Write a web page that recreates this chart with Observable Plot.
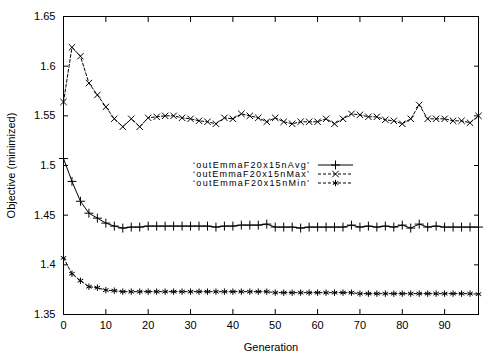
<!DOCTYPE html>
<html><head><meta charset="utf-8">
<script src="https://cdn.jsdelivr.net/npm/d3@7"></script>
<script src="https://cdn.jsdelivr.net/npm/@observablehq/plot@0.6"></script>
<style>body{margin:0;background:#fff}</style>
</head><body><div id="chart"></div><script>
const generations = [0,2,4,6,8,10,12,14,16,18,20,22,24,26,28,30,32,34,36,38,40,42,44,46,48,50,52,54,56,58,60,62,64,66,68,70,72,74,76,78,80,82,84,86,88,90,92,94,96,98];
const avgValues = [1.507,1.484,1.464,1.452,1.447,1.442,1.439,1.437,1.438,1.438,1.439,1.439,1.439,1.439,1.439,1.439,1.439,1.439,1.438,1.439,1.439,1.440,1.440,1.440,1.441,1.438,1.438,1.438,1.437,1.438,1.438,1.438,1.438,1.438,1.440,1.438,1.439,1.438,1.439,1.438,1.440,1.437,1.441,1.438,1.439,1.438,1.438,1.438,1.438,1.438];
const maxValues = [1.564,1.619,1.610,1.583,1.571,1.559,1.547,1.539,1.547,1.539,1.548,1.549,1.550,1.550,1.548,1.547,1.545,1.544,1.542,1.548,1.547,1.552,1.550,1.548,1.544,1.548,1.544,1.542,1.544,1.544,1.544,1.547,1.542,1.547,1.552,1.551,1.549,1.549,1.546,1.545,1.542,1.547,1.561,1.547,1.547,1.547,1.545,1.545,1.543,1.550];
const minValues = [1.407,1.391,1.384,1.378,1.377,1.3745,1.374,1.373,1.373,1.373,1.373,1.373,1.373,1.373,1.373,1.373,1.373,1.373,1.373,1.373,1.373,1.373,1.373,1.373,1.373,1.372,1.372,1.372,1.372,1.372,1.372,1.372,1.372,1.372,1.372,1.371,1.371,1.371,1.371,1.371,1.371,1.371,1.371,1.371,1.371,1.371,1.371,1.371,1.371,1.3705];
const seriesNames = ["\u2018outEmmaF20x15nAvg\u2019","\u2018outEmmaF20x15nMax\u2019","\u2018outEmmaF20x15nMin\u2019"];
const xTicks = [0,10,20,30,40,50,60,70,80,90];
const yTicks = [1.35,1.4,1.45,1.5,1.55,1.6,1.65];
const yTickLabels = ["1.35","1.4","1.45","1.5","1.55","1.6","1.65"];
const xLabel = "Generation";
const yLabel = "Objective (minimized)";

const seriesValues = [avgValues, maxValues, minValues];
const symbols = ["plus", "times", "asterisk"];
const dashes = [null, "3,2", "3,2"];
const tables = seriesValues.map((vals, s) => generations.map((g, i) => ({gen: g, value: vals[i], series: seriesNames[s]})));
const yLabelMap = new Map(yTicks.map((t, i) => [t, yTickLabels[i]]));

const marks = [];
tables.forEach((t, s) => {
  marks.push(Plot.line(t, {x: "gen", y: "value", stroke: "black", strokeWidth: 1, strokeDasharray: dashes[s] || undefined}));
  marks.push(Plot.dot(t, {x: "gen", y: "value", symbol: () => symbols[s], r: 3, stroke: "black", strokeWidth: 1}));
});

const chart = Plot.plot({
  width: 501, height: 351,
  marginLeft: 63, marginRight: 23, marginTop: 16, marginBottom: 37,
  style: {fontFamily: "'Liberation Sans', Arial, sans-serif", fontSize: "11px", background: "white", color: "black"},
  x: {domain: [0, 98]},
  y: {domain: [1.35, 1.65]},
  symbol: {domain: symbols, range: symbols},
  marks: [
    Plot.frame({stroke: "black"}),
    Plot.axisX({ticks: xTicks, tickSize: -5, tickPadding: 12, tickFormat: d => String(d), label: xLabel, labelAnchor: "center", labelOffset: 36, labelArrow: "none"}),
    Plot.axisX({anchor: "top", ticks: xTicks, tickSize: -5, tickFormat: () => "", label: null}),
    Plot.axisY({ticks: yTicks, tickSize: -5, tickPadding: 13, tickFormat: d => yLabelMap.get(d), label: yLabel, labelAnchor: "center", labelOffset: 56, labelArrow: "none"}),
    Plot.axisY({anchor: "right", ticks: yTicks, tickSize: -5, tickFormat: () => "", label: null}),
    ...marks
  ]
});
document.getElementById("chart").appendChild(chart);

// legend
const svg = d3.select(chart);
const lg = svg.append("g").attr("font-size", 9).attr("fill", "black");
const rowY = [165, 174, 183];
seriesNames.forEach((name, s) => {
  const y = rowY[s];
  lg.append("text").attr("x", 309).attr("y", y).attr("dy", "0.35em").attr("text-anchor", "end")
    .attr("textLength", 116).attr("lengthAdjust", "spacing").text(name);
  lg.append("line").attr("x1", 318).attr("x2", 353).attr("y1", y).attr("y2", y)
    .attr("stroke", "black").attr("stroke-width", 1).attr("stroke-dasharray", dashes[s]);
  const sym = {plus: d3.symbolPlus, times: d3.symbolTimes, asterisk: d3.symbolAsterisk}[symbols[s]];
  lg.append("path").attr("transform", `translate(335.5,${y})`)
    .attr("d", d3.symbol(sym, Math.PI * 9)()).attr("fill", "none").attr("stroke", "black").attr("stroke-width", 1);
});
</script></body></html>
